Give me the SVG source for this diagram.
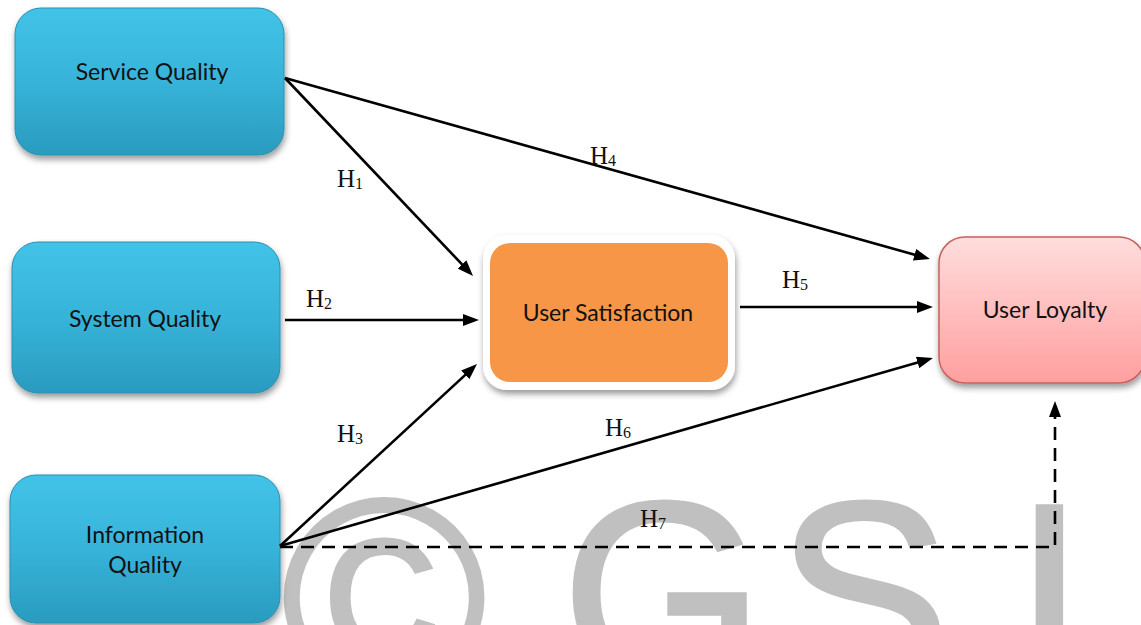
<svg xmlns="http://www.w3.org/2000/svg" width="1141" height="625" viewBox="0 0 1141 625">
<style>
.lbl{font-family:"Lato","Liberation Sans",sans-serif;font-size:23px;fill:#111;text-anchor:middle}
.h{font-family:"Liberation Serif","DejaVu Serif",serif;font-size:25px;fill:#111}
.sub{font-size:16px}
.wm{font-family:"Liberation Sans",Arial,sans-serif;font-size:262px;fill:#c0c0c0;stroke:#c0c0c0;stroke-width:3}
.con{stroke:#000;stroke-width:2.6;fill:none}
.dash{stroke-dasharray:13 8}
</style>
<defs>
<linearGradient id="blue" x1="0" y1="0" x2="0" y2="1">
<stop offset="0" stop-color="#42c3e7"/>
<stop offset="0.5" stop-color="#37b3d9"/>
<stop offset="1" stop-color="#2a9bbf"/>
</linearGradient>
<linearGradient id="pink" x1="0" y1="0" x2="0" y2="1">
<stop offset="0" stop-color="#ffdddd"/>
<stop offset="1" stop-color="#ff9f9f"/>
</linearGradient>
<filter id="sh" x="-10%" y="-10%" width="125%" height="130%">
<feDropShadow dx="1" dy="4" stdDeviation="3" flood-color="#000" flood-opacity="0.4"/>
</filter>
<marker id="arr" viewBox="0 0 16 12" refX="10" refY="6" markerWidth="16" markerHeight="12" markerUnits="userSpaceOnUse" orient="auto">
<path d="M0,0 L16,6 L0,12 z" fill="#000"/>
</marker>
</defs>
<rect width="1141" height="625" fill="#fff"/>
<g id="watermark">
<text class="wm" x="281" y="694" style="font-size:280px">©</text>
<text class="wm" x="561" y="684">G</text>
<text class="wm" x="776" y="684">S</text>
<text class="wm" x="1013" y="686">I</text>
</g>
<g id="service-quality">
<rect x="15" y="8" width="269" height="147" rx="26" fill="url(#blue)" stroke="#2a8fb0" stroke-width="1" filter="url(#sh)"/>
<text class="lbl" x="152" y="80">Service Quality</text>
</g>
<g id="system-quality">
<rect x="12" y="242" width="268" height="151" rx="26" fill="url(#blue)" stroke="#2a8fb0" stroke-width="1" filter="url(#sh)"/>
<text class="lbl" x="145" y="327">System Quality</text>
</g>
<g id="information-quality">
<rect x="10" y="475" width="270" height="148" rx="26" fill="url(#blue)" stroke="#2a8fb0" stroke-width="1" filter="url(#sh)"/>
<text class="lbl" x="145" y="543">Information</text>
<text class="lbl" x="145" y="573">Quality</text>
</g>
<g id="user-satisfaction">
<rect x="483" y="235" width="252" height="155" rx="24" fill="#fff" filter="url(#sh)"/>
<rect x="490" y="243" width="238" height="139" rx="20" fill="#f79646"/>
<text class="lbl" x="608" y="321">User Satisfaction</text>
</g>
<g id="user-loyalty">
<rect x="939" y="237" width="206" height="146" rx="26" fill="url(#pink)" stroke="#c8605c" stroke-width="1.5" filter="url(#sh)"/>
<text class="lbl" x="1045" y="318">User Loyalty</text>
</g>
<g id="connectors">
<line class="con" x1="285" y1="78" x2="468.9" y2="271.6" marker-end="url(#arr)"/>
<line class="con" x1="285" y1="78" x2="924.2" y2="257.4" marker-end="url(#arr)"/>
<line class="con" x1="285" y1="320" x2="473" y2="320" marker-end="url(#arr)"/>
<line class="con" x1="280" y1="546" x2="472.6" y2="368.1" marker-end="url(#arr)"/>
<line class="con" x1="280" y1="546" x2="927.2" y2="359.7" marker-end="url(#arr)"/>
<line class="con" x1="740" y1="307" x2="927" y2="307" marker-end="url(#arr)"/>
<path class="con dash" d="M280,547 H1055 V407" marker-end="url(#arr)"/>
</g>
<g id="labels">
<text class="h" x="337" y="187">H<tspan class="sub" dy="2">1</tspan></text>
<text class="h" x="306" y="307">H<tspan class="sub" dy="2">2</tspan></text>
<text class="h" x="337" y="442">H<tspan class="sub" dy="2">3</tspan></text>
<text class="h" x="590" y="164">H<tspan class="sub" dy="2">4</tspan></text>
<text class="h" x="782" y="288">H<tspan class="sub" dy="2">5</tspan></text>
<text class="h" x="605" y="436">H<tspan class="sub" dy="2">6</tspan></text>
<text class="h" x="640" y="527">H<tspan class="sub" dy="2">7</tspan></text>
</g>
</svg>
